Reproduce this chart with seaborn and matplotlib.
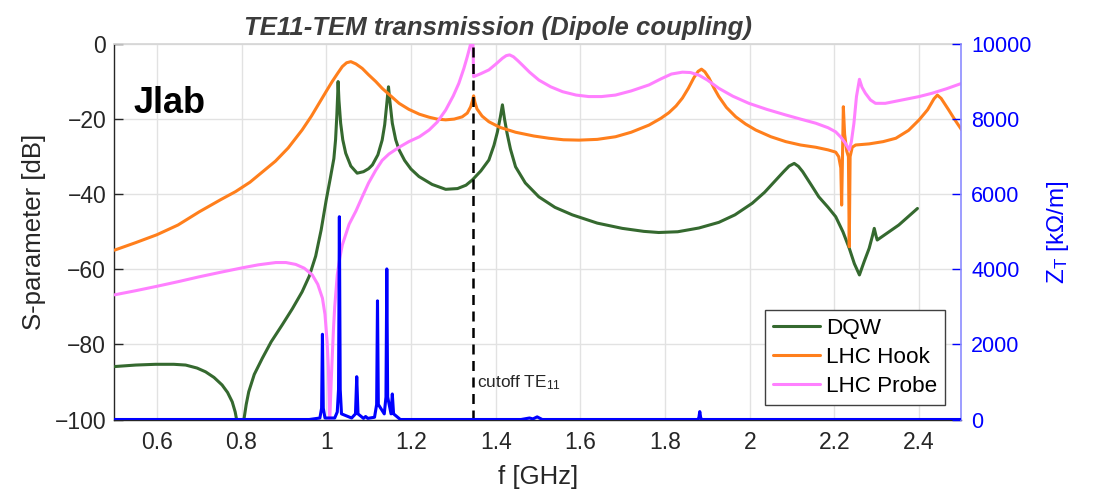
import matplotlib
matplotlib.use("Agg")
import matplotlib.pyplot as plt
from matplotlib import font_manager
from matplotlib.ticker import FuncFormatter
import seaborn as sns

# ---------------------------------------------------------------- data
# DQW transmission [dB] vs frequency [GHz]
dqw_freq = [0.500, 0.550, 0.597, 0.640, 0.668, 0.695, 0.715, 0.735, 0.754, 0.767,
            0.778, 0.785, 0.790, 0.793, 0.801, 0.806, 0.811, 0.817, 0.830, 0.849,
            0.870, 0.896, 0.920, 0.943, 0.960, 0.975, 0.988, 1.000, 1.010, 1.018,
            1.022, 1.025, 1.027, 1.028, 1.030, 1.034, 1.039, 1.046, 1.058, 1.073,
            1.088, 1.100, 1.109, 1.122, 1.132, 1.138, 1.142, 1.145, 1.147, 1.150,
            1.156, 1.164, 1.172, 1.185, 1.200, 1.219, 1.250, 1.282, 1.310, 1.330,
            1.345, 1.365, 1.384, 1.396, 1.404, 1.411, 1.416, 1.421, 1.427, 1.435,
            1.447, 1.470, 1.502, 1.540, 1.581, 1.640, 1.699, 1.750, 1.785, 1.830,
            1.880, 1.927, 1.965, 2.006, 2.035, 2.062, 2.080, 2.093, 2.105, 2.115,
            2.125, 2.145, 2.163, 2.185, 2.203, 2.220, 2.235, 2.247, 2.259, 2.270,
            2.282, 2.290, 2.294, 2.298, 2.301, 2.352, 2.396]
dqw_db = [-85.9, -85.5, -85.3, -85.3, -85.5, -86.3, -87.3, -88.8, -90.8, -92.8,
          -95.3, -98.0, -101.0, -105.0, -105.0, -99.7, -96.0, -92.6, -88.0, -83.7,
          -79.3, -74.8, -70.5, -66.0, -61.8, -56.5, -49.5, -41.5, -35.5, -30.5,
          -25.5, -19.0, -13.5, -10.0, -15.0, -21.1, -25.5, -29.1, -32.5, -34.4,
          -34.0, -33.2, -32.2, -29.5, -25.6, -21.5, -17.0, -13.5, -11.4, -15.0,
          -21.1, -25.5, -28.2, -31.0, -33.3, -35.3, -37.4, -38.7, -38.5, -37.6,
          -36.2, -33.8, -30.9, -27.0, -23.5, -19.5, -16.2, -20.0, -23.8, -28.0,
          -32.7, -37.0, -40.7, -43.5, -45.5, -47.7, -49.1, -49.9, -50.2, -50.0,
          -49.0, -47.5, -45.5, -42.4, -39.5, -36.2, -34.0, -32.5, -31.8, -32.6,
          -34.0, -37.5, -40.7, -43.5, -46.0, -50.0, -54.4, -58.5, -61.5, -58.0,
          -54.4, -51.0, -49.1, -51.0, -52.2, -48.2, -43.8]

# LHC Hook transmission [dB]
hook_freq = [0.500, 0.550, 0.600, 0.650, 0.700, 0.750, 0.786, 0.820, 0.850, 0.880,
             0.910, 0.943, 0.965, 0.983, 1.000, 1.014, 1.027, 1.038, 1.048, 1.058,
             1.070, 1.085, 1.100, 1.117, 1.132, 1.148, 1.172, 1.195, 1.220, 1.243,
             1.262, 1.282, 1.302, 1.321, 1.333, 1.341, 1.345, 1.348, 1.351, 1.356,
             1.368, 1.384, 1.410, 1.447, 1.490, 1.526, 1.560, 1.597, 1.640, 1.683,
             1.720, 1.762, 1.790, 1.809, 1.826, 1.841, 1.855, 1.868, 1.878, 1.886,
             1.894, 1.904, 1.915, 1.927, 1.945, 1.967, 1.990, 2.014, 2.050, 2.085,
             2.120, 2.156, 2.185, 2.203, 2.210, 2.215, 2.217, 2.219, 2.221, 2.224,
             2.229, 2.233, 2.235, 2.237, 2.242, 2.250, 2.282, 2.315, 2.345, 2.375,
             2.400, 2.420, 2.435, 2.443, 2.452, 2.470, 2.485, 2.500]
hook_db = [-54.9, -52.9, -50.8, -48.2, -44.7, -41.5, -39.3, -36.8, -34.0, -31.2,
           -27.7, -22.9, -19.2, -15.8, -12.6, -10.0, -7.8, -6.0, -5.0, -4.7,
           -5.3, -6.5, -8.2, -10.0, -11.8, -13.4, -15.8, -17.4, -18.7, -19.5,
           -20.0, -20.2, -20.0, -19.4, -18.4, -16.7, -15.2, -13.8, -15.5, -17.3,
           -19.2, -20.7, -22.2, -23.5, -24.5, -25.1, -25.5, -25.6, -25.4, -24.7,
           -23.5, -21.6, -19.8, -18.3, -16.5, -14.4, -11.8, -9.0, -7.3, -6.7,
           -7.4, -9.1, -11.6, -14.0, -16.9, -19.4, -21.3, -22.9, -24.7, -26.0,
           -26.9, -27.5, -28.2, -28.8, -30.0, -33.0, -42.9, -30.0, -16.7, -24.0,
           -28.5, -30.0, -54.0, -30.0, -27.5, -26.9, -26.6, -26.0, -25.1, -23.0,
           -20.2, -17.5, -14.6, -13.6, -14.5, -17.6, -20.3, -22.8]

# LHC Probe transmission [dB]
probe_freq = [0.500, 0.550, 0.597, 0.650, 0.700, 0.750, 0.802, 0.840, 0.881, 0.905,
              0.928, 0.948, 0.967, 0.980, 0.991, 0.997, 1.002, 1.005, 1.007, 1.008,
              1.010, 1.012, 1.014, 1.017, 1.020, 1.026, 1.032, 1.038, 1.054, 1.070,
              1.085, 1.100, 1.117, 1.132, 1.148, 1.172, 1.195, 1.220, 1.243, 1.262,
              1.282, 1.300, 1.313, 1.325, 1.333, 1.341, 1.346, 1.348, 1.365, 1.384,
              1.400, 1.416, 1.425, 1.433, 1.442, 1.452, 1.463, 1.480, 1.502, 1.530,
              1.558, 1.590, 1.620, 1.650, 1.683, 1.720, 1.762, 1.790, 1.815, 1.841,
              1.860, 1.880, 1.900, 1.927, 1.960, 1.998, 2.040, 2.085, 2.120, 2.156,
              2.185, 2.203, 2.215, 2.225, 2.235, 2.240, 2.246, 2.252, 2.259, 2.265,
              2.273, 2.285, 2.297, 2.320, 2.360, 2.400, 2.431, 2.465, 2.500]
probe_db = [-66.8, -65.7, -64.6, -63.3, -62.0, -60.8, -59.6, -58.8, -58.2, -58.2,
            -58.7, -59.7, -61.5, -64.0, -67.7, -72.0, -79.3, -86.0, -95.0, -101.0,
            -95.0, -89.0, -83.7, -76.0, -70.0, -61.5, -57.0, -53.5, -48.0, -44.5,
            -40.7, -37.0, -33.6, -31.0, -29.3, -27.5, -26.0, -24.7, -22.9, -20.8,
            -17.6, -13.8, -10.5, -6.5, -3.4, 0.0, 2.0, -8.7, -7.9, -6.9,
            -5.4, -3.8, -3.1, -2.9, -3.4, -4.4, -5.6, -7.5, -9.6, -11.4,
            -12.7, -13.6, -14.0, -14.0, -13.6, -12.5, -10.9, -9.3, -8.0, -7.5,
            -7.6, -8.3, -9.6, -11.8, -13.9, -15.8, -17.4, -18.9, -20.0, -21.1,
            -22.3, -23.4, -24.8, -26.3, -28.2, -26.0, -21.1, -14.0, -9.4, -11.5,
            -13.1, -14.9, -15.8, -15.8, -14.9, -14.0, -13.1, -11.9, -10.5]

# Transverse impedance Z_T [kOhm/m]
zt_freq = [0.500, 0.960, 0.985, 0.989, 0.991, 0.993, 0.997, 1.020, 1.026, 1.029,
           1.031, 1.033, 1.036, 1.060, 1.069, 1.072, 1.075, 1.088, 1.093, 1.098,
           1.114, 1.119, 1.121, 1.123, 1.137, 1.141, 1.143, 1.145, 1.153, 1.156,
           1.159, 1.175, 1.460, 1.480, 1.488, 1.498, 1.510, 1.878, 1.880, 1.882,
           1.884, 1.886, 2.500]
zt_val = [0, 0, 40, 300, 2270, 300, 40, 40, 200, 800,
          5400, 800, 150, 40, 150, 1140, 150, 30, 80, 30,
          60, 400, 3160, 400, 150, 600, 4010, 600, 150, 680,
          150, 0, 0, 40, 15, 70, 0, 0, 60, 210,
          60, 0, 0]

cutoff_freq = 1.347
x_ticks = [0.6, 0.8, 1.0, 1.2, 1.4, 1.6, 1.8, 2.0, 2.2, 2.4]
y_ticks = [-100, -80, -60, -40, -20, 0]
zt_ticks = [0, 2000, 4000, 6000, 8000, 10000]

# ---------------------------------------------------------------- style
sns.set_theme(style="white")
installed = {f.name for f in font_manager.fontManager.ttflist}
narrow = "Liberation Sans Narrow" if "Liberation Sans Narrow" in installed else "Liberation Sans"
plt.rcParams["font.family"] = ["Liberation Sans", "DejaVu Sans"]
plt.rcParams["mathtext.fontset"] = "custom"
plt.rcParams["mathtext.rm"] = "Liberation Sans"
plt.rcParams["mathtext.it"] = "Liberation Sans:italic"
plt.rcParams["mathtext.bf"] = "Liberation Sans:bold"

DARK = "#262626"
C_DQW = "#35692f"
C_HOOK = "#ff7f1c"
C_PROBE = "#ff80ff"
C_ZT = "#0000ff"
LW = 2.2

fig = plt.figure(figsize=(10.94, 4.98), dpi=100)
ax = fig.add_axes([0.10466, 0.15763, 0.77422, 0.75402])

series = [(dqw_freq, dqw_db, C_DQW, "DQW"),
          (hook_freq, hook_db, C_HOOK, "LHC Hook"),
          (probe_freq, probe_db, C_PROBE, "LHC Probe")]
for fr, val, col, lab in series:
    sns.lineplot(x=fr, y=val, ax=ax, color=col, lw=LW, label=lab,
                 sort=False, estimator=None, zorder=3)
if ax.get_legend() is not None:
    ax.get_legend().remove()

ax.axvline(cutoff_freq, color="black", lw=1.8, ls=(0, (4, 2.6)), zorder=5)
ax.text(cutoff_freq + 0.01, -91.3, "cutoff TE$_{11}$", fontsize=12.4,
        color=DARK, va="baseline", ha="left", zorder=6)

ax.set_xlim(0.5, 2.5)
ax.set_ylim(-100, 0)
ax.set_xticks(x_ticks)
ax.set_yticks(y_ticks)
ax.xaxis.set_major_formatter(FuncFormatter(lambda v, p: f"{round(v, 1):g}"))
ax.grid(True, color="#e2e2e2", lw=1.0)
ax.set_axisbelow(True)
ax.tick_params(axis="both", direction="in", length=6.5, width=1.0,
               colors=DARK, labelsize=16.5, pad=6)
ax.tick_params(axis="x", pad=8)
for side in ("left", "bottom"):
    ax.spines[side].set_color(DARK)
    ax.spines[side].set_linewidth(1.0)
ax.spines["top"].set_color("#d6d6d6")
ax.spines["right"].set_visible(False)
ax.set_xlabel("f [GHz]", fontsize=18.5, color=DARK, labelpad=8)
ax.set_ylabel("S-parameter [dB]", fontsize=18.5, color=DARK, labelpad=6)

ax2 = ax.twinx()
sns.lineplot(x=zt_freq, y=zt_val, ax=ax2, color=C_ZT, lw=LW,
             sort=False, estimator=None, zorder=4)
ax2.set_ylim(0, 10000)
ax2.set_yticks(zt_ticks)
ax2.tick_params(axis="y", direction="in", length=6.5, width=1.0,
                colors=C_ZT, labelsize=15.5, pad=7)
for side in ("left", "bottom", "top"):
    ax2.spines[side].set_visible(False)
ax2.spines["right"].set_color("#8c8cff")
ax2.spines["right"].set_linewidth(1.2)
ax2.set_ylabel("Z$_\\mathrm{T}$ [k\u03a9/m]", fontsize=17.5, color=C_ZT, labelpad=10)

handles, labels = ax.get_legend_handles_labels()
leg = ax2.legend(handles, labels, loc="lower right", bbox_to_anchor=(0.9805, 0.0386),
                 borderaxespad=0, fontsize=16.2, frameon=True, fancybox=False,
                 handlelength=2.1, handletextpad=0.25, labelspacing=0.36,
                 borderpad=0.35)
leg.get_frame().set_edgecolor("#404040")
leg.get_frame().set_linewidth(1.0)
leg.get_frame().set_facecolor("white")
leg.get_frame().set_alpha(1)
for t in leg.get_texts():
    t.set_color("black")

fig.text(134 / 1094, 1 - 112.7 / 498, "Jlab", fontsize=30 if narrow != "Liberation Sans" else 26,
         fontweight="bold", family=[narrow, "DejaVu Sans"], color="black", va="baseline")
fig.text(498 / 1094, 1 - 35 / 498, "TE11-TEM transmission (Dipole coupling)",
         fontsize=22 if narrow != "Liberation Sans" else 18.5, fontweight="bold",
         fontstyle="italic", family=[narrow, "DejaVu Sans"], color="#3c3c3c",
         ha="center", va="baseline")

fig.savefig("out.png", dpi=100)
